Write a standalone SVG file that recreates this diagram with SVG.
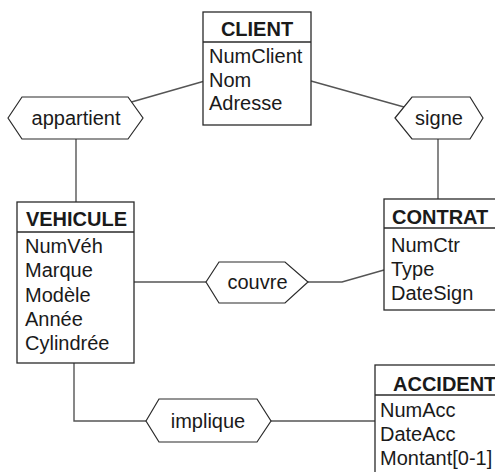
<svg xmlns="http://www.w3.org/2000/svg" width="495" height="472" viewBox="0 0 495 472">
<style>
.box{fill:#fff;stroke:#2a2a2a;stroke-width:1.3}
.rel{fill:#fff;stroke:#2a2a2a;stroke-width:1.2}
.ln{fill:none;stroke:#555;stroke-width:1.4}
text{font-family:"Liberation Sans",Arial,sans-serif;font-size:20px;fill:#1a1a1a}
.h{font-weight:bold}
.c{text-anchor:middle}
</style>
<rect width="495" height="472" fill="#fff"/>
<g id="connectors">
<polyline class="ln" points="128,103 203,81.5"/>
<polyline class="ln" points="311,81 404,107"/>
<polyline class="ln" points="76,139 76,202"/>
<polyline class="ln" points="438,139 438,199"/>
<polyline class="ln" points="134,282 206,282"/>
<polyline class="ln" points="308,282 342,282 384,270"/>
<polyline class="ln" points="74,363 74,421 146,421"/>
<polyline class="ln" points="271,421 375,421"/>
</g>
<g id="client">
<rect class="box" x="203" y="12" width="108" height="113"/>
<line class="box" x1="203" y1="42" x2="311" y2="42"/>
<text class="h c" x="257" y="36">CLIENT</text>
<text x="209" y="63">NumClient</text>
<text x="209" y="87">Nom</text>
<text x="209" y="110">Adresse</text>
</g>
<g id="vehicule">
<rect class="box" x="17" y="202" width="117" height="161"/>
<line class="box" x1="17" y1="232" x2="134" y2="232"/>
<text class="h c" x="76.5" y="226">VEHICULE</text>
<text x="25" y="253">NumVéh</text>
<text x="25" y="277">Marque</text>
<text x="25" y="301.5">Modèle</text>
<text x="25" y="326">Année</text>
<text x="25" y="350">Cylindrée</text>
</g>
<g id="contrat">
<rect class="box" x="384" y="199" width="120" height="111"/>
<line class="box" x1="384" y1="228" x2="504" y2="228"/>
<text class="h" x="392" y="224">CONTRAT</text>
<text x="391" y="252">NumCtr</text>
<text x="391" y="276">Type</text>
<text x="391" y="300">DateSign</text>
</g>
<g id="accident">
<rect class="box" x="375" y="365" width="130" height="115"/>
<line class="box" x1="375" y1="395" x2="505" y2="395"/>
<text class="h" x="393" y="391">ACCIDENT</text>
<text x="380" y="417">NumAcc</text>
<text x="380" y="441">DateAcc</text>
<text x="380" y="465">Montant[0-1]</text>
</g>
<g id="appartient">
<polygon class="rel" points="8,118 22,97 128,97 143,118 128,139 22,139"/>
<text class="c" x="76" y="125">appartient</text>
</g>
<g id="signe">
<polygon class="rel" points="395,118 412,97 470,97 483,118 470,139 412,139"/>
<text class="c" x="439" y="125">signe</text>
</g>
<g id="couvre">
<polygon class="rel" points="206,282 219,262 285,262 308,282 285,303 219,303"/>
<text class="c" x="257.5" y="289">couvre</text>
</g>
<g id="implique">
<polygon class="rel" points="146,421 159,399 257,399 271,421 257,442 159,442"/>
<text class="c" x="208" y="428">implique</text>
</g>
</svg>
